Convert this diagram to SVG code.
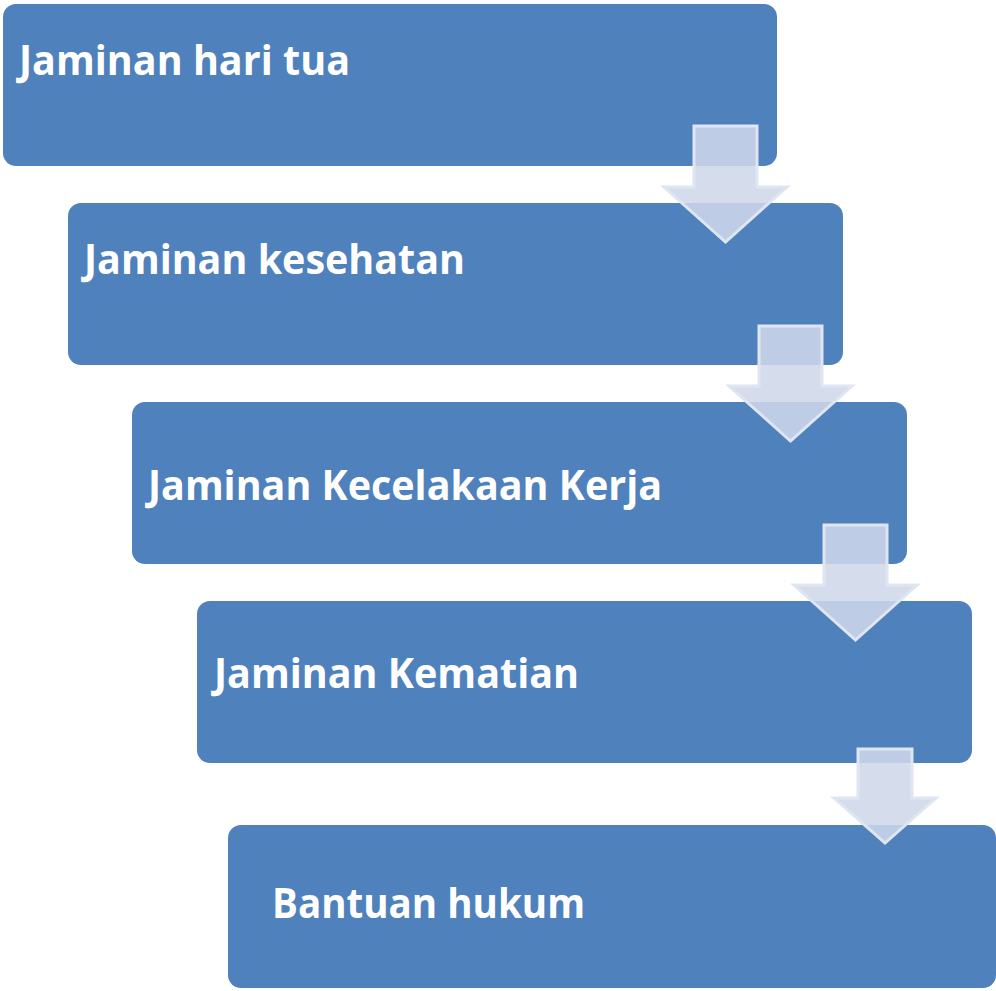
<svg xmlns="http://www.w3.org/2000/svg" width="996" height="991" viewBox="0 0 996 991">
<style>
.box{fill:#4f81bd;}
.lbl{fill:#ffffff;font-family:"Open Sans","Liberation Sans",sans-serif;font-weight:bold;font-size:42px;}
.arr{fill:#cfd8ea;fill-opacity:0.87;stroke:#dfe6f1;stroke-width:3;stroke-linejoin:miter;}
</style>
<rect width="996" height="991" fill="#ffffff"/>
<g id="node1">
<rect class="box" x="3" y="4" width="774" height="162" rx="13"/>
<text class="lbl" x="19" y="75" textLength="331" lengthAdjust="spacingAndGlyphs">Jaminan hari tua</text>
</g>
<g id="node2">
<rect class="box" x="68" y="203" width="775" height="162" rx="13"/>
<text class="lbl" x="84" y="274" textLength="381" lengthAdjust="spacingAndGlyphs">Jaminan kesehatan</text>
</g>
<g id="node3">
<rect class="box" x="132" y="402" width="775" height="162" rx="13"/>
<text class="lbl" x="148" y="500" textLength="514" lengthAdjust="spacingAndGlyphs">Jaminan Kecelakaan Kerja</text>
</g>
<g id="node4">
<rect class="box" x="197" y="601" width="775" height="162" rx="13"/>
<text class="lbl" x="214" y="688" textLength="365" lengthAdjust="spacingAndGlyphs">Jaminan Kematian</text>
</g>
<g id="node5">
<rect class="box" x="228" y="825" width="768" height="163" rx="13"/>
<text class="lbl" x="272" y="918" textLength="313" lengthAdjust="spacingAndGlyphs">Bantuan hukum</text>
</g>
<g id="connectors">
<polygon class="arr" points="694,126 757,126 757,187 787,187 725.5,242 664,187 694,187"/>
<polygon class="arr" points="759,326 822,326 822,386 852,386 790.5,441 729,386 759,386"/>
<polygon class="arr" points="824,525 887,525 887,585 917,585 855.5,640 794,585 824,585"/>
<polygon class="arr" points="858,749 912,749 912,798 936,798 885,843 834,798 858,798"/>
</g>
</svg>
